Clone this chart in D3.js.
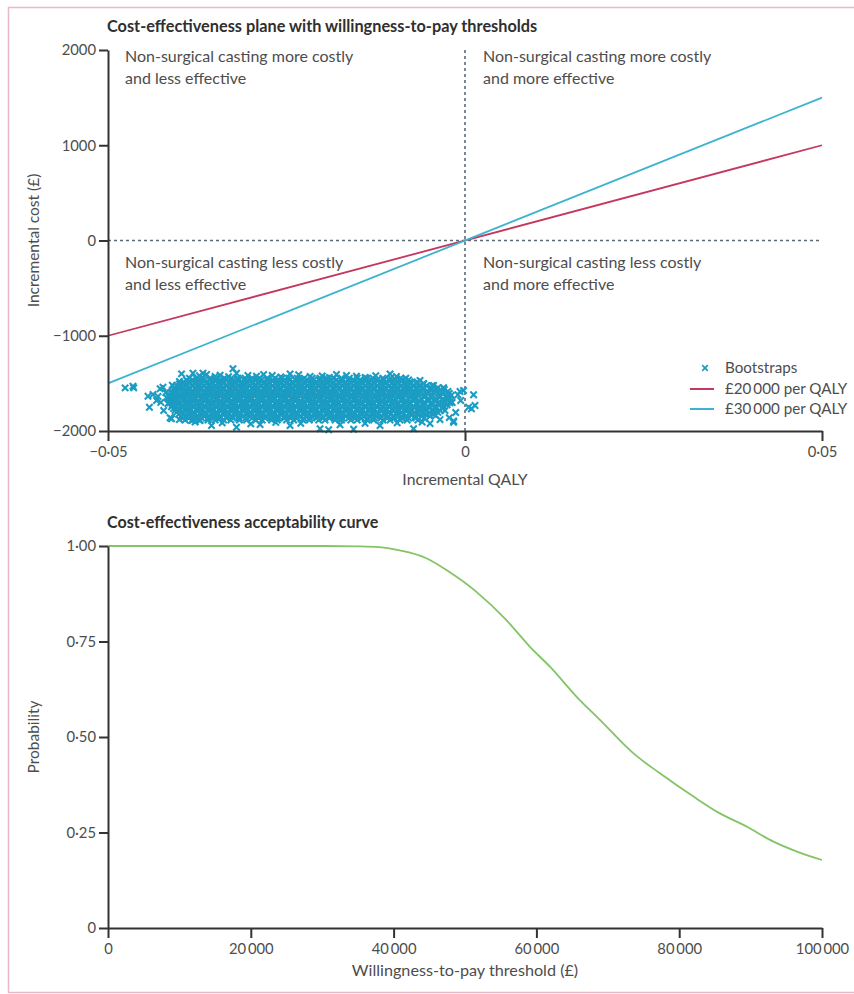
<!DOCTYPE html>
<html>
<head>
<meta charset="utf-8">
<script src="https://cdn.jsdelivr.net/npm/d3@7"></script>
<style>
  html, body { margin: 0; padding: 0; background: #fff; }
  svg { display: block; font-family: Lato, "Open Sans", sans-serif; }
</style>
</head>
<body>
<svg id="chart" width="854" height="994"></svg>
<script>
// ---- Cost-effectiveness plane ----
const planeQalyTicks = [-0.05, 0, 0.05];
const planeCostTicks = [-2000, -1000, 0, 1000, 2000];

// Willingness-to-pay threshold lines (incremental QALY -> incremental cost)
const thresholdQaly = [-0.05, 0.05];
const threshold20kCost = [-1000, 1000];
const threshold30kCost = [-1500, 1500];

// Bootstrap replicates: dense core, listed as [incremental cost, incremental QALYs]
const bootstrapCore = [
  [-1445, [-0.0386,-0.0376,-0.0369,-0.0357,-0.0348,-0.0337,-0.0327,-0.0318,-0.0308,-0.0298,-0.0288,-0.0277,-0.0266,-0.0256,-0.0247,-0.0235,-0.0225,-0.0214,-0.0203,-0.0194,-0.0184,-0.0173,-0.0162,-0.0151,-0.0138,-0.0129,-0.0115,-0.0104,-0.0090]],
  [-1465, [-0.0390,-0.0382,-0.0373,-0.0365,-0.0357,-0.0350,-0.0341,-0.0334,-0.0325,-0.0317,-0.0309,-0.0301,-0.0293,-0.0285,-0.0277,-0.0270,-0.0261,-0.0253,-0.0245,-0.0237,-0.0229,-0.0221,-0.0212,-0.0204,-0.0196,-0.0188,-0.0180,-0.0172,-0.0164,-0.0156,-0.0147,-0.0139,-0.0131,-0.0123,-0.0114,-0.0106,-0.0097,-0.0088,-0.0079]],
  [-1485, [-0.0394,-0.0387,-0.0378,-0.0371,-0.0361,-0.0355,-0.0345,-0.0339,-0.0330,-0.0323,-0.0312,-0.0306,-0.0297,-0.0290,-0.0281,-0.0275,-0.0264,-0.0258,-0.0249,-0.0242,-0.0232,-0.0226,-0.0215,-0.0209,-0.0199,-0.0193,-0.0184,-0.0177,-0.0167,-0.0161,-0.0150,-0.0144,-0.0135,-0.0128,-0.0118,-0.0111,-0.0101,-0.0094,-0.0084,-0.0077,-0.0067]],
  [-1505, [-0.0400,-0.0394,-0.0386,-0.0378,-0.0369,-0.0362,-0.0353,-0.0346,-0.0338,-0.0329,-0.0321,-0.0314,-0.0305,-0.0298,-0.0289,-0.0282,-0.0273,-0.0266,-0.0258,-0.0250,-0.0241,-0.0234,-0.0225,-0.0218,-0.0209,-0.0202,-0.0193,-0.0186,-0.0176,-0.0169,-0.0160,-0.0153,-0.0144,-0.0136,-0.0127,-0.0119,-0.0111,-0.0103,-0.0094,-0.0086,-0.0077,-0.0068,-0.0058]],
  [-1525, [-0.0404,-0.0397,-0.0391,-0.0381,-0.0374,-0.0365,-0.0358,-0.0349,-0.0343,-0.0333,-0.0327,-0.0316,-0.0311,-0.0301,-0.0294,-0.0285,-0.0279,-0.0269,-0.0262,-0.0253,-0.0247,-0.0236,-0.0230,-0.0220,-0.0214,-0.0204,-0.0198,-0.0188,-0.0181,-0.0171,-0.0165,-0.0155,-0.0149,-0.0139,-0.0132,-0.0122,-0.0116,-0.0106,-0.0099,-0.0089,-0.0082,-0.0071,-0.0064,-0.0054,-0.0046]],
  [-1545, [-0.0406,-0.0400,-0.0395,-0.0386,-0.0378,-0.0370,-0.0362,-0.0354,-0.0347,-0.0338,-0.0330,-0.0322,-0.0314,-0.0306,-0.0298,-0.0290,-0.0282,-0.0274,-0.0266,-0.0258,-0.0250,-0.0242,-0.0234,-0.0225,-0.0217,-0.0209,-0.0201,-0.0193,-0.0185,-0.0176,-0.0168,-0.0160,-0.0152,-0.0144,-0.0136,-0.0127,-0.0119,-0.0111,-0.0103,-0.0094,-0.0085,-0.0076,-0.0067,-0.0058,-0.0048,-0.0038]],
  [-1565, [-0.0408,-0.0401,-0.0392,-0.0386,-0.0376,-0.0370,-0.0360,-0.0354,-0.0345,-0.0339,-0.0329,-0.0322,-0.0313,-0.0307,-0.0297,-0.0291,-0.0281,-0.0275,-0.0265,-0.0259,-0.0249,-0.0243,-0.0232,-0.0226,-0.0216,-0.0210,-0.0200,-0.0194,-0.0184,-0.0177,-0.0167,-0.0161,-0.0151,-0.0145,-0.0135,-0.0128,-0.0118,-0.0112,-0.0102,-0.0096,-0.0086,-0.0079,-0.0068,-0.0060,-0.0048,-0.0040,-0.0029]],
  [-1585, [-0.0410,-0.0404,-0.0397,-0.0389,-0.0381,-0.0373,-0.0365,-0.0357,-0.0349,-0.0341,-0.0333,-0.0325,-0.0317,-0.0309,-0.0301,-0.0293,-0.0285,-0.0277,-0.0269,-0.0261,-0.0253,-0.0245,-0.0236,-0.0228,-0.0220,-0.0212,-0.0204,-0.0196,-0.0188,-0.0180,-0.0172,-0.0163,-0.0155,-0.0147,-0.0139,-0.0131,-0.0123,-0.0114,-0.0106,-0.0098,-0.0089,-0.0080,-0.0071,-0.0062,-0.0052,-0.0042,-0.0032,-0.0024]],
  [-1605, [-0.0411,-0.0405,-0.0395,-0.0390,-0.0380,-0.0374,-0.0364,-0.0358,-0.0349,-0.0343,-0.0333,-0.0327,-0.0317,-0.0311,-0.0301,-0.0295,-0.0285,-0.0279,-0.0269,-0.0263,-0.0253,-0.0247,-0.0237,-0.0230,-0.0220,-0.0214,-0.0204,-0.0198,-0.0188,-0.0182,-0.0171,-0.0165,-0.0155,-0.0149,-0.0139,-0.0133,-0.0122,-0.0116,-0.0106,-0.0100,-0.0089,-0.0083,-0.0072,-0.0065,-0.0053,-0.0044,-0.0031,-0.0022]],
  [-1625, [-0.0413,-0.0406,-0.0398,-0.0390,-0.0382,-0.0375,-0.0367,-0.0359,-0.0351,-0.0343,-0.0335,-0.0327,-0.0319,-0.0311,-0.0303,-0.0295,-0.0287,-0.0279,-0.0271,-0.0263,-0.0255,-0.0247,-0.0239,-0.0231,-0.0223,-0.0215,-0.0207,-0.0199,-0.0190,-0.0182,-0.0174,-0.0166,-0.0158,-0.0150,-0.0142,-0.0134,-0.0125,-0.0117,-0.0109,-0.0101,-0.0092,-0.0084,-0.0075,-0.0066,-0.0056,-0.0046,-0.0036,-0.0026,-0.0019]],
  [-1645, [-0.0414,-0.0408,-0.0399,-0.0393,-0.0384,-0.0378,-0.0368,-0.0362,-0.0352,-0.0347,-0.0337,-0.0331,-0.0321,-0.0315,-0.0305,-0.0299,-0.0289,-0.0283,-0.0273,-0.0267,-0.0257,-0.0251,-0.0241,-0.0235,-0.0224,-0.0218,-0.0208,-0.0202,-0.0192,-0.0186,-0.0176,-0.0169,-0.0159,-0.0153,-0.0143,-0.0137,-0.0127,-0.0120,-0.0110,-0.0104,-0.0093,-0.0087,-0.0076,-0.0069,-0.0057,-0.0048,-0.0035,-0.0026]],
  [-1665, [-0.0415,-0.0409,-0.0402,-0.0394,-0.0386,-0.0378,-0.0370,-0.0363,-0.0355,-0.0347,-0.0339,-0.0331,-0.0323,-0.0315,-0.0307,-0.0299,-0.0291,-0.0283,-0.0275,-0.0267,-0.0259,-0.0251,-0.0243,-0.0235,-0.0227,-0.0219,-0.0211,-0.0203,-0.0195,-0.0187,-0.0179,-0.0171,-0.0162,-0.0154,-0.0146,-0.0138,-0.0130,-0.0122,-0.0113,-0.0105,-0.0097,-0.0088,-0.0079,-0.0070,-0.0061,-0.0051,-0.0041,-0.0031,-0.0022]],
  [-1685, [-0.0412,-0.0405,-0.0395,-0.0389,-0.0380,-0.0374,-0.0364,-0.0358,-0.0348,-0.0343,-0.0333,-0.0327,-0.0317,-0.0311,-0.0301,-0.0295,-0.0285,-0.0279,-0.0269,-0.0263,-0.0253,-0.0247,-0.0237,-0.0231,-0.0220,-0.0214,-0.0204,-0.0198,-0.0188,-0.0182,-0.0172,-0.0165,-0.0155,-0.0149,-0.0139,-0.0133,-0.0123,-0.0116,-0.0106,-0.0100,-0.0089,-0.0083,-0.0072,-0.0064,-0.0051,-0.0042,-0.0029,-0.0020]],
  [-1705, [-0.0413,-0.0406,-0.0399,-0.0391,-0.0383,-0.0376,-0.0368,-0.0360,-0.0352,-0.0345,-0.0337,-0.0329,-0.0321,-0.0313,-0.0305,-0.0297,-0.0289,-0.0281,-0.0273,-0.0265,-0.0257,-0.0249,-0.0241,-0.0233,-0.0225,-0.0217,-0.0209,-0.0201,-0.0193,-0.0185,-0.0177,-0.0169,-0.0160,-0.0152,-0.0144,-0.0136,-0.0128,-0.0120,-0.0111,-0.0103,-0.0094,-0.0086,-0.0077,-0.0068,-0.0058,-0.0048,-0.0038,-0.0028,-0.0021]],
  [-1725, [-0.0410,-0.0402,-0.0392,-0.0386,-0.0376,-0.0370,-0.0360,-0.0354,-0.0344,-0.0339,-0.0329,-0.0323,-0.0313,-0.0307,-0.0297,-0.0291,-0.0281,-0.0275,-0.0265,-0.0259,-0.0249,-0.0243,-0.0233,-0.0227,-0.0216,-0.0210,-0.0200,-0.0194,-0.0184,-0.0178,-0.0168,-0.0161,-0.0151,-0.0145,-0.0135,-0.0129,-0.0119,-0.0112,-0.0102,-0.0096,-0.0085,-0.0078,-0.0067,-0.0059,-0.0046,-0.0037,-0.0025]],
  [-1745, [-0.0411,-0.0404,-0.0396,-0.0389,-0.0381,-0.0373,-0.0365,-0.0357,-0.0349,-0.0341,-0.0333,-0.0325,-0.0317,-0.0309,-0.0301,-0.0293,-0.0285,-0.0277,-0.0269,-0.0261,-0.0253,-0.0245,-0.0237,-0.0229,-0.0221,-0.0213,-0.0205,-0.0197,-0.0189,-0.0181,-0.0173,-0.0165,-0.0156,-0.0148,-0.0140,-0.0132,-0.0124,-0.0115,-0.0107,-0.0099,-0.0090,-0.0081,-0.0072,-0.0062,-0.0052,-0.0041,-0.0030]],
  [-1765, [-0.0408,-0.0401,-0.0391,-0.0385,-0.0375,-0.0369,-0.0359,-0.0353,-0.0343,-0.0337,-0.0327,-0.0321,-0.0311,-0.0305,-0.0295,-0.0289,-0.0279,-0.0273,-0.0263,-0.0257,-0.0247,-0.0241,-0.0231,-0.0225,-0.0215,-0.0209,-0.0199,-0.0193,-0.0183,-0.0177,-0.0167,-0.0161,-0.0151,-0.0145,-0.0134,-0.0128,-0.0118,-0.0111,-0.0101,-0.0094,-0.0083,-0.0076,-0.0064,-0.0055,-0.0042,-0.0032]],
  [-1785, [-0.0406,-0.0399,-0.0392,-0.0384,-0.0376,-0.0368,-0.0360,-0.0352,-0.0344,-0.0336,-0.0328,-0.0320,-0.0312,-0.0304,-0.0296,-0.0288,-0.0280,-0.0272,-0.0264,-0.0256,-0.0248,-0.0240,-0.0232,-0.0224,-0.0216,-0.0208,-0.0200,-0.0192,-0.0184,-0.0176,-0.0168,-0.0160,-0.0152,-0.0143,-0.0135,-0.0127,-0.0118,-0.0110,-0.0101,-0.0092,-0.0083,-0.0074,-0.0064,-0.0054,-0.0044,-0.0035]],
  [-1805, [-0.0404,-0.0397,-0.0387,-0.0380,-0.0370,-0.0364,-0.0354,-0.0348,-0.0338,-0.0332,-0.0322,-0.0316,-0.0306,-0.0300,-0.0290,-0.0284,-0.0274,-0.0268,-0.0258,-0.0252,-0.0242,-0.0236,-0.0226,-0.0220,-0.0210,-0.0204,-0.0194,-0.0188,-0.0178,-0.0172,-0.0162,-0.0156,-0.0146,-0.0140,-0.0130,-0.0123,-0.0113,-0.0107,-0.0096,-0.0089,-0.0078,-0.0071,-0.0059,-0.0050,-0.0038]],
  [-1825, [-0.0401,-0.0394,-0.0386,-0.0378,-0.0370,-0.0362,-0.0354,-0.0346,-0.0338,-0.0330,-0.0322,-0.0314,-0.0306,-0.0298,-0.0290,-0.0282,-0.0274,-0.0266,-0.0258,-0.0250,-0.0242,-0.0234,-0.0226,-0.0218,-0.0210,-0.0202,-0.0194,-0.0186,-0.0178,-0.0170,-0.0162,-0.0154,-0.0146,-0.0137,-0.0129,-0.0121,-0.0112,-0.0104,-0.0095,-0.0086,-0.0076,-0.0066,-0.0055,-0.0044]],
  [-1845, [-0.0398,-0.0391,-0.0381,-0.0375,-0.0365,-0.0359,-0.0349,-0.0343,-0.0333,-0.0327,-0.0317,-0.0311,-0.0301,-0.0295,-0.0285,-0.0279,-0.0269,-0.0263,-0.0253,-0.0247,-0.0237,-0.0231,-0.0221,-0.0215,-0.0205,-0.0199,-0.0189,-0.0183,-0.0173,-0.0167,-0.0157,-0.0151,-0.0141,-0.0134,-0.0124,-0.0118,-0.0107,-0.0100,-0.0089,-0.0082,-0.0070,-0.0061,-0.0049]],
  [-1865, [-0.0395,-0.0387,-0.0378,-0.0369,-0.0360,-0.0352,-0.0343,-0.0334,-0.0325,-0.0316,-0.0307,-0.0298,-0.0289,-0.0280,-0.0271,-0.0262,-0.0253,-0.0244,-0.0235,-0.0226,-0.0217,-0.0208,-0.0199,-0.0190,-0.0181,-0.0172,-0.0163,-0.0154,-0.0145,-0.0136,-0.0127,-0.0118,-0.0109,-0.0099,-0.0089,-0.0079,-0.0069,-0.0057]],
  [-1885, [-0.0392,-0.0381,-0.0372,-0.0360,-0.0350,-0.0338,-0.0328,-0.0316,-0.0306,-0.0293,-0.0284,-0.0271,-0.0263,-0.0250,-0.0240,-0.0227,-0.0218,-0.0205,-0.0196,-0.0182,-0.0173,-0.0160,-0.0151,-0.0137,-0.0128,-0.0115,-0.0105,-0.0091,-0.0081,-0.0066]]
];

// Bootstrap replicates around the edge of the cloud: [incremental QALY, incremental cost]
const bootstrapEdge = [
  [-0.0476,-1547],[-0.0465,-1530],[-0.0464,-1547],[-0.0444,-1635],[-0.0437,-1617],
  [-0.0442,-1750],[-0.0427,-1557],[-0.0423,-1540],[-0.0432,-1680],[-0.0413,-1861],
  [-0.0419,-1596],[-0.0416,-1711],[-0.0430,-1638],[-0.0422,-1785],
  [-0.0397,-1400],[-0.0381,-1393],[-0.0367,-1393],[-0.0362,-1407],[-0.0350,-1428],
  [-0.0325,-1347],[-0.0320,-1393],[-0.0304,-1417],[-0.0282,-1407],[-0.0245,-1400],
  [-0.0217,-1428],[-0.0180,-1407],[-0.0166,-1417],[-0.0140,-1438],[-0.0105,-1400],
  [-0.0096,-1428],[-0.0044,-1522],[-0.0063,-1470],
  [-0.0007,-1585],[-0.0002,-1575],[0.0012,-1620],[0.0005,-1750],[0.0014,-1732],
  [0.0009,-1767],[-0.0016,-1908],[-0.0024,-1638],[-0.0018,-1701],[-0.0028,-1785],
  [-0.0035,-1575],[-0.0013,-1806],[-0.0041,-1837],
  [-0.0411,-1872],[-0.0383,-1890],[-0.0371,-1890],[-0.0355,-1942],[-0.0320,-1960],
  [-0.0287,-1932],[-0.0245,-1942],[-0.0203,-1977],[-0.0191,-1987],[-0.0156,-1981],
  [-0.0119,-1942],[-0.0072,-1977],[-0.0016,-1895],[-0.0049,-1921],
  [-0.0372,-1420],[-0.0343,-1415],[-0.0331,-1430],[-0.0292,-1425],[-0.0270,-1418],
  [-0.0258,-1432],[-0.0233,-1410],[-0.0200,-1422],[-0.0190,-1437],[-0.0152,-1425],
  [-0.0125,-1420],[-0.0083,-1445],[-0.0076,-1490],[-0.0058,-1500],[-0.0030,-1545],
  [-0.0010,-1620],[-0.0006,-1680],[-0.0022,-1860],[-0.0035,-1880],[-0.0060,-1905],
  [-0.0095,-1915],[-0.0140,-1920],[-0.0175,-1935],[-0.0230,-1920],[-0.0265,-1910],
  [-0.0300,-1925],[-0.0340,-1915],[-0.0378,-1905],[-0.0400,-1880],[-0.0426,-1700],
  [-0.0418,-1650],[-0.0410,-1520],[-0.0400,-1480]
];

// ---- Cost-effectiveness acceptability curve ----
const wtpThreshold = [0, 10000, 20000, 30000, 35000, 38000, 41000, 44600, 47400, 51600, 55800, 59100, 61900, 65600, 68900, 73600, 77300, 82000, 85700, 89500, 93200, 96500, 100000];
const probCostEffective = [1, 1, 1, 1, 0.999, 0.997, 0.988, 0.968, 0.937, 0.880, 0.806, 0.736, 0.684, 0.606, 0.545, 0.457, 0.405, 0.344, 0.300, 0.265, 0.226, 0.200, 0.178];
const wtpTicks = [0, 20000, 40000, 60000, 80000, 100000];
const probTicks = [0, 0.25, 0.5, 0.75, 1];

// ---- palette ----
const C = {
  axis: "#333333",
  text: "#4d4d4d",
  title: "#2f2f2f",
  dash: "#5c6a78",
  red: "#c4375e",
  blue: "#3db3d0",
  cross: "#1b9cc3",
  green: "#84c466",
  frame: "#ebb8c8"
};

const svg = d3.select("#chart");

// Outer frame
svg.append("rect")
  .attr("x", 8.5).attr("y", 7.5)
  .attr("width", 900).attr("height", 985)
  .attr("fill", "none").attr("stroke", C.frame).attr("stroke-width", 1.5);

// Number formatting: middle-dot decimals, true minus, thin space for ten-thousands
function fmtNum(v, decimals) {
  const neg = v < 0;
  let s = Math.abs(v).toFixed(decimals).replace(".", "\u00B7");
  if (decimals === 0 && Math.abs(v) >= 10000) {
    s = s.replace(/\B(?=(\d{3})+(?!\d))/g, "\u2009");
  }
  return (neg ? "\u2212" : "") + s;
}

function styleAxis(g) {
  g.select(".domain").attr("stroke", C.axis).attr("stroke-width", 2);
  g.selectAll(".tick line").attr("stroke", C.axis).attr("stroke-width", 2);
  g.selectAll(".tick text").attr("fill", C.text).attr("font-size", 14.8)
    .attr("font-family", "Lato, 'Open Sans', sans-serif");
}

// ================= Panel 1: plane =================
const xP = d3.scaleLinear().domain([-0.05, 0.05]).range([108, 822]);
const yP = d3.scaleLinear().domain([-2000, 2000]).range([431, 50]);

svg.append("text")
  .attr("x", 107).attr("y", 32)
  .attr("font-size", 16.3).attr("font-weight", 700).attr("fill", C.title)
  .text("Cost-effectiveness plane with willingness-to-pay thresholds");

// Quadrant dividers
svg.append("line")
  .attr("x1", xP(0)).attr("x2", xP(0)).attr("y1", yP(2000)).attr("y2", yP(-2000))
  .attr("stroke", C.dash).attr("stroke-width", 1.6).attr("stroke-dasharray", "3,3");
svg.append("line")
  .attr("x1", xP(-0.05)).attr("x2", xP(0.05)).attr("y1", yP(0)).attr("y2", yP(0))
  .attr("stroke", C.dash).attr("stroke-width", 1.6).attr("stroke-dasharray", "3,3");

// Quadrant captions
const quadrants = [
  { x: -0.05, y: 2000, dy: 12, lines: ["Non-surgical casting more costly", "and less effective"] },
  { x: 0, y: 2000, dy: 12, lines: ["Non-surgical casting more costly", "and more effective"] },
  { x: -0.05, y: 0, dy: 27, lines: ["Non-surgical casting less costly", "and less effective"] },
  { x: 0, y: 0, dy: 27, lines: ["Non-surgical casting less costly", "and more effective"] }
];
quadrants.forEach(q => {
  const t = svg.append("text")
    .attr("font-size", 16).attr("fill", C.text);
  q.lines.forEach((l, i) => {
    t.append("tspan")
      .attr("x", xP(q.x) + (q.x === 0 ? 18 : 17))
      .attr("y", yP(q.y) + q.dy + i * 22)
      .text(l);
  });
});

// Threshold lines
const lineP = d3.line().x(d => xP(d[0])).y(d => yP(d[1]));
svg.append("path")
  .datum(thresholdQaly.map((q, i) => [q, threshold20kCost[i]]))
  .attr("d", lineP).attr("fill", "none").attr("stroke", C.red).attr("stroke-width", 1.8);
svg.append("path")
  .datum(thresholdQaly.map((q, i) => [q, threshold30kCost[i]]))
  .attr("d", lineP).attr("fill", "none").attr("stroke", C.blue).attr("stroke-width", 1.8);

// Bootstrap crosses
const bootPoints = [];
bootstrapCore.forEach(([cost, qs]) => qs.forEach(q => bootPoints.push([q, cost])));
bootstrapEdge.forEach(p => bootPoints.push(p));
const cross = "M-3.2,-3.2L3.2,3.2M-3.2,3.2L3.2,-3.2";
svg.append("g").selectAll("path")
  .data(bootPoints).join("path")
  .attr("transform", d => `translate(${xP(d[0])},${yP(d[1])})`)
  .attr("d", cross)
  .attr("stroke", C.cross).attr("stroke-width", 2.1).attr("fill", "none");

// Axes
svg.append("g").attr("transform", `translate(${xP(-0.05)},0)`)
  .call(d3.axisLeft(yP).tickValues(planeCostTicks).tickSize(9).tickSizeOuter(0).tickPadding(3)
    .tickFormat(d => fmtNum(d, 0)))
  .call(styleAxis);
svg.append("g").attr("transform", `translate(0,${yP(-2000)})`)
  .call(d3.axisBottom(xP).tickValues(planeQalyTicks).tickSize(10).tickSizeOuter(0).tickPadding(5)
    .tickFormat(d => d === 0 ? "0" : fmtNum(d, 2)))
  .call(styleAxis);

svg.append("text")
  .attr("transform", `translate(39,${yP(0)}) rotate(-90)`)
  .attr("text-anchor", "middle").attr("font-size", 15.5).attr("fill", C.text)
  .text("Incremental cost (£)");
svg.append("text")
  .attr("x", xP(0)).attr("y", 485)
  .attr("text-anchor", "middle").attr("font-size", 15.8).attr("fill", C.text)
  .text("Incremental QALY");

// Legend
const legend = svg.append("g").attr("transform", "translate(690,368)");
legend.append("path").attr("d", "M-2.8,-2.8L2.8,2.8M-2.8,2.8L2.8,-2.8")
  .attr("transform", "translate(15,0)")
  .attr("stroke", C.cross).attr("stroke-width", 1.7);
const legItems = [
  { label: "Bootstraps", y: 0 },
  { label: "£20\u2009000 per QALY", y: 21, color: C.red },
  { label: "£30\u2009000 per QALY", y: 41, color: C.blue }
];
legItems.forEach(it => {
  if (it.color) {
    legend.append("line").attr("x1", 0).attr("x2", 24).attr("y1", it.y).attr("y2", it.y)
      .attr("stroke", it.color).attr("stroke-width", 2);
  }
  legend.append("text").attr("x", 35).attr("y", it.y + 5)
    .attr("font-size", 15.2).attr("fill", C.text).text(it.label);
});

// ================= Panel 2: acceptability curve =================
const xA = d3.scaleLinear().domain([0, 100000]).range([108, 822]);
const yA = d3.scaleLinear().domain([0, 1]).range([928, 546]);

svg.append("text")
  .attr("x", 107).attr("y", 528)
  .attr("font-size", 16.1).attr("font-weight", 700).attr("fill", C.title)
  .text("Cost-effectiveness acceptability curve");

svg.append("path")
  .datum(wtpThreshold.map((w, i) => [w, probCostEffective[i]]))
  .attr("d", d3.line().x(d => xA(d[0])).y(d => yA(d[1])).curve(d3.curveMonotoneX))
  .attr("fill", "none").attr("stroke", C.green).attr("stroke-width", 1.8);

svg.append("g").attr("transform", `translate(${xA(0)},0)`)
  .call(d3.axisLeft(yA).tickValues(probTicks).tickSize(9).tickSizeOuter(0).tickPadding(3)
    .tickFormat(d => d === 0 ? "0" : fmtNum(d, 2)))
  .call(styleAxis);
svg.append("g").attr("transform", `translate(0,${yA(0)})`)
  .call(d3.axisBottom(xA).tickValues(wtpTicks).tickSize(10).tickSizeOuter(0).tickPadding(5)
    .tickFormat(d => fmtNum(d, 0)))
  .call(styleAxis);

svg.append("text")
  .attr("transform", `translate(39,${yA(0.5)}) rotate(-90)`)
  .attr("text-anchor", "middle").attr("font-size", 15.5).attr("fill", C.text)
  .text("Probability");
svg.append("text")
  .attr("x", xA(50000)).attr("y", 976)
  .attr("text-anchor", "middle").attr("font-size", 16.2).attr("fill", C.text)
  .text("Willingness-to-pay threshold (£)");
</script>
</body>
</html>
